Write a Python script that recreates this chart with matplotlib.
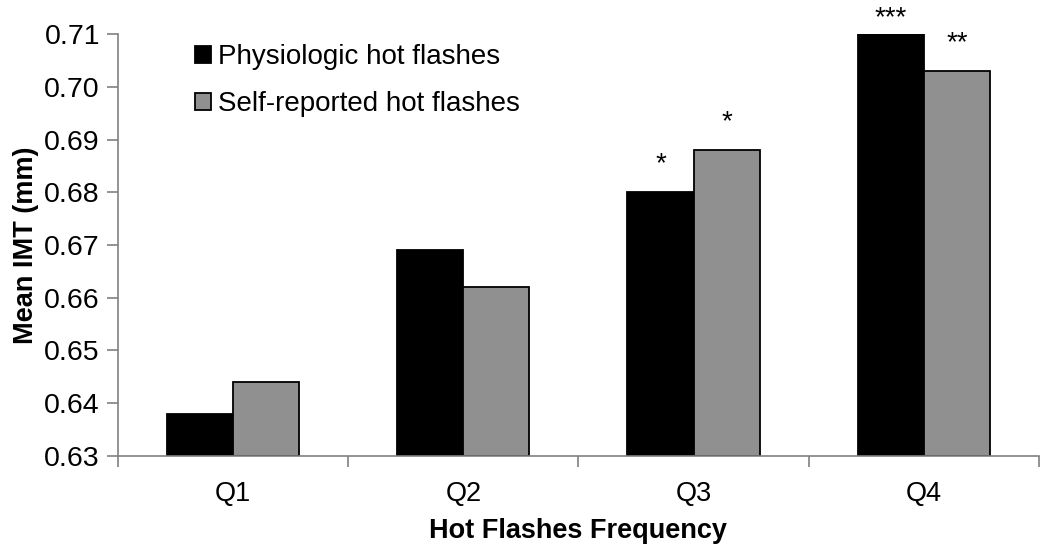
import numpy as np
import matplotlib.pyplot as plt
from matplotlib.ticker import FixedLocator, MultipleLocator, FormatStrFormatter

plt.rcParams['font.family'] = ['Liberation Sans', 'DejaVu Sans']

categories = ["Q1", "Q2", "Q3", "Q4"]
physiologic = [0.638, 0.669, 0.680, 0.710]
self_reported = [0.644, 0.662, 0.688, 0.703]
phys_sig = ["", "", "*", "***"]
self_sig = ["", "", "*", "**"]

fig = plt.figure(figsize=(10.5, 5.5), dpi=100)
ax = fig.add_axes([0.1124, 0.171, 0.877, 0.767])

x = np.arange(len(categories))
w = 0.287
ax.bar(x - w / 2, np.array(physiologic) - 0.63, w, bottom=0.63, color='black',
       edgecolor='black', linewidth=1.3, label='Physiologic hot flashes')
ax.bar(x + w / 2, np.array(self_reported) - 0.63, w, bottom=0.63, color='#909090',
       edgecolor='black', linewidth=1.3, label='Self-reported hot flashes')

# significance stars
for xi, v, s in zip(x - w / 2, physiologic, phys_sig):
    if s:
        off = 0.0030 if v >= 0.709 else 0.0054
        ax.text(xi, v + off, s, ha='center', va='center', fontsize=20)
for xi, v, s in zip(x + w / 2, self_reported, self_sig):
    if s:
        ax.text(xi, v + 0.0052, s, ha='center', va='center', fontsize=20)

ax.set_ylim(0.63, 0.71)
ax.set_xlim(-0.5, 3.5)
ax.yaxis.set_major_locator(MultipleLocator(0.01))
ax.yaxis.set_major_formatter(FormatStrFormatter('%.2f'))

ax.xaxis.set_major_locator(FixedLocator(np.arange(-0.5, 4, 1)))
ax.xaxis.set_minor_locator(FixedLocator(x))
ax.set_xticklabels([])
ax.set_xticklabels(categories, minor=True)
ax.tick_params(axis='x', which='minor', length=0, labelsize=19.5, pad=18)
ax.tick_params(axis='x', which='major', length=8, color='#808080', width=1.2)
ax.tick_params(axis='y', length=8, color='#808080', width=1.2, labelsize=20.5, pad=5)

for sp in ['top', 'right']:
    ax.spines[sp].set_visible(False)
for sp in ['left', 'bottom']:
    ax.spines[sp].set_color('#808080')
    ax.spines[sp].set_linewidth(1.2)

ax.set_ylabel('Mean IMT (mm)', fontsize=19.5, fontweight='bold', labelpad=4)
ax.set_xlabel('Hot Flashes Frequency', fontsize=19.5, fontweight='bold', labelpad=8)

ax.legend(loc='upper left', bbox_to_anchor=(0.065, 1.015), frameon=False, fontsize=20,
          handlelength=0.6, handleheight=0.6, handletextpad=0.25, labelspacing=0.75,
          borderaxespad=0.2)

fig.savefig('out.png', dpi=100)
